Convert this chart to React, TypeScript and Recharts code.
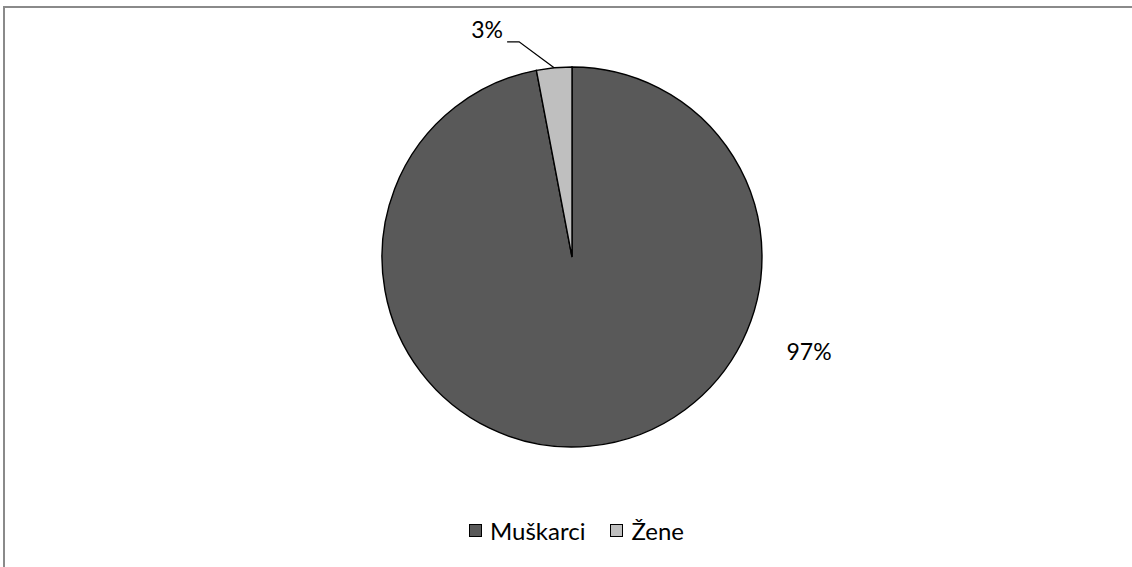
import React from "react";
import { PieChart, Pie, Cell } from "recharts";

const categories = ["Muškarci", "Žene"];
const shares = [97, 3];
const colors = ["#595959", "#BFBFBF"];

const data = categories.map((name, i) => ({ name, value: shares[i] }));

const RADIAN = Math.PI / 180;
const FONT = "Lato, 'Noto Sans', sans-serif";

const renderLabel = (props: any) => {
  const { cx, cy, outerRadius, midAngle, index, percent } = props;
  const text = `${Math.round(percent * 100)}%`;
  if (index === 0) {
    // best-fit style: outside, lower right
    const ang = -21.6;
    const r = outerRadius + 65;
    const x = cx + r * Math.cos(-ang * RADIAN);
    const y = cy + r * Math.sin(-ang * RADIAN);
    return (
      <text x={x} y={y} fill="#000" fontSize={23} fontFamily={FONT} textAnchor="middle" dominantBaseline="central">
        {text}
      </text>
    );
  }
  const sx = cx + outerRadius * Math.cos(-midAngle * RADIAN);
  const sy = cy + outerRadius * Math.sin(-midAngle * RADIAN);
  const ex = sx - 35;
  const ey = sy - 26;
  const hx = ex - 12;
  return (
    <g>
      <path d={`M${sx},${sy}L${ex},${ey}L${hx},${ey}`} stroke="#000" strokeWidth={1.3} fill="none" />
      <text x={hx - 20} y={ey - 13} fill="#000" fontSize={23} fontFamily={FONT} textAnchor="middle" dominantBaseline="central">
        {text}
      </text>
    </g>
  );
};

export default function App() {
  return (
    <div style={{ position: "absolute", left: 0, top: 0, width: 1132, height: 567, background: "#fff", overflow: "hidden" }}>
      <div
        style={{
          position: "absolute",
          left: 3,
          top: 6,
          width: 1140,
          height: 570,
          borderLeft: "2px solid #8a8a8a",
          borderTop: "2px solid #8a8a8a",
        }}
      />
      <div style={{ position: "absolute", left: 0, top: 0 }}>
        <PieChart width={1132} height={567} margin={{ top: 0, right: 0, bottom: 0, left: 0 }}>
          <Pie
            data={data}
            dataKey="value"
            nameKey="name"
            cx={572}
            cy={257}
            outerRadius={190}
            startAngle={90}
            endAngle={-270}
            stroke="#000"
            strokeWidth={1.4}
            label={renderLabel}
            labelLine={false}
            isAnimationActive={false}
          >
            {data.map((d, i) => (
              <Cell key={d.name} fill={colors[i]} />
            ))}
          </Pie>
        </PieChart>
      </div>
      <div
        style={{
          position: "absolute",
          left: 469,
          top: 515,
          height: 30,
          display: "flex",
          alignItems: "center",
          fontFamily: FONT,
          fontSize: 24,
          color: "#000",
        }}
      >
        {data.map((d, i) => (
          <div key={d.name} style={{ display: "flex", alignItems: "center", marginRight: i === 0 ? 25 : 0 }}>
            <span
              style={{
                width: 11,
                height: 11,
                background: colors[i],
                border: "1px solid #000",
                marginRight: 8,
                display: "inline-block",
              }}
            />
            <span>{d.name}</span>
          </div>
        ))}
      </div>
    </div>
  );
}
